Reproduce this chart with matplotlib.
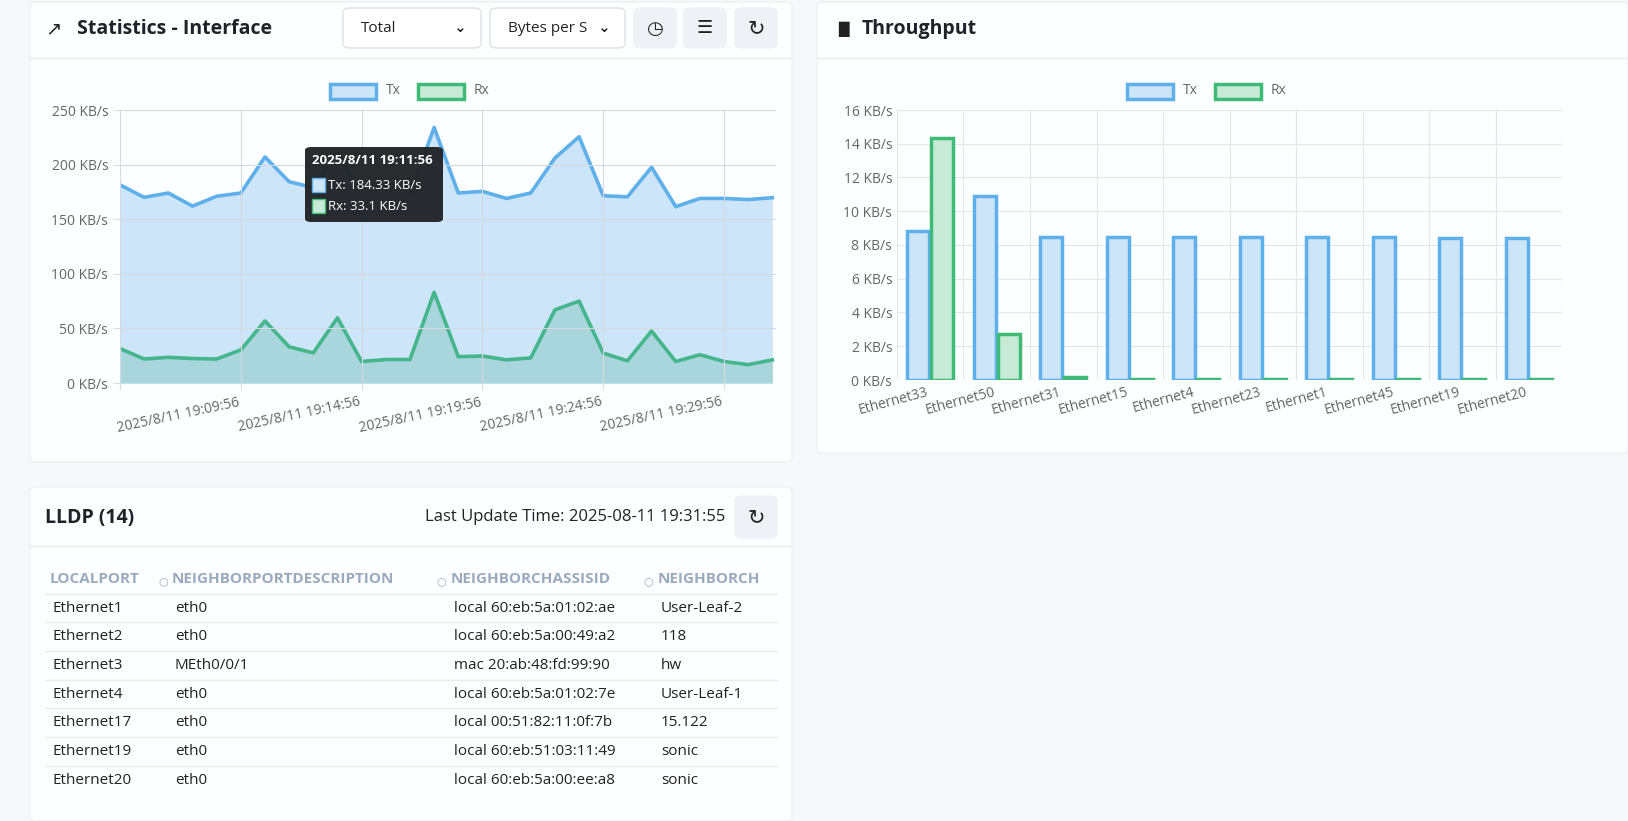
import numpy as np
import matplotlib.pyplot as plt
from matplotlib.patches import FancyBboxPatch, Rectangle

plt.rcParams['font.family'] = ['Open Sans', 'DejaVu Sans']

times = ['2025/8/11 19:%02d:56' % m for m in range(4, 32)]
tx_line = [181.5, 170, 174, 162, 171, 174, 207, 184.33, 179, 212, 171, 172, 172, 234,
           174, 175.5, 169, 174, 206, 225.5, 171.5, 170.5, 197.6, 161.5, 169, 169, 168, 169.7]
rx_line = [31.5, 22, 23.5, 22.4, 22, 30.3, 56.8, 33.1, 27.6, 59.7, 19.7, 21.5, 21.5, 83,
           24.1, 24.7, 21.2, 23, 67, 75, 27.4, 20.3, 47.6, 19.7, 25.9, 19.7, 16.8, 21.2]

ports = ['Ethernet33', 'Ethernet50', 'Ethernet31', 'Ethernet15', 'Ethernet4',
         'Ethernet23', 'Ethernet1', 'Ethernet45', 'Ethernet19', 'Ethernet20']
tx_bar = [8.8, 10.9, 8.5, 8.5, 8.45, 8.45, 8.45, 8.45, 8.4, 8.4]
rx_bar = [14.35, 2.75, 0.15, 0.05, 0.05, 0.08, 0.05, 0.05, 0.05, 0.05]

lldp_cols = ['LOCALPORT', 'NEIGHBORPORTDESCRIPTION', 'NEIGHBORCHASSISID', 'NEIGHBORCH']
lldp_rows = [
    ['Ethernet1', 'eth0', 'local 60:eb:5a:01:02:ae', 'User-Leaf-2'],
    ['Ethernet2', 'eth0', 'local 60:eb:5a:00:49:a2', '118'],
    ['Ethernet3', 'MEth0/0/1', 'mac 20:ab:48:fd:99:90', 'hw'],
    ['Ethernet4', 'eth0', 'local 60:eb:5a:01:02:7e', 'User-Leaf-1'],
    ['Ethernet17', 'eth0', 'local 00:51:82:11:0f:7b', '15.122'],
    ['Ethernet19', 'eth0', 'local 60:eb:51:03:11:49', 'sonic'],
    ['Ethernet20', 'eth0', 'local 60:eb:5a:00:ee:a8', 'sonic'],
]

W, H = 1628, 821
fig = plt.figure(figsize=(W / 100, H / 100), dpi=100, facecolor='#f6f9fc')

def fx(x): return x / W
def fy(y): return 1 - y / H

def card(x0, y0, x1, y1, header=None):
    fig.patches.append(FancyBboxPatch((fx(x0), fy(y1)), fx(x1 - x0), (y1 - y0) / H,
                                      boxstyle='round,pad=0,rounding_size=0.004',
                                      transform=fig.transFigure, fc='#fdfeff', ec='#eef1f4', lw=1,
                                      zorder=-5))
    if header:
        fig.add_artist(plt.Line2D([fx(x0), fx(x1)], [fy(header)] * 2, color='#e9edf1', lw=1, zorder=-4))

def button(x0, y0, x1, y1, text='', fc='#eef2f6', ec='#eef2f6', ha='center', fs=11):
    fig.patches.append(FancyBboxPatch((fx(x0), fy(y1)), fx(x1 - x0), (y1 - y0) / H,
                                      boxstyle='round,pad=0,rounding_size=0.005',
                                      transform=fig.transFigure, fc=fc, ec=ec, lw=1))
    if text:
        fig.text(fx(x0 + 18) if ha == 'left' else fx((x0 + x1) / 2), fy((y0 + y1) / 2), text,
                 ha=ha, va='center', fontsize=fs, color='#222', family=['DejaVu Sans'] if ha == 'center' else None)

card(30, 2, 792, 462, header=58)
card(817, 2, 1628, 453, header=58)
card(30, 487, 792, 821, header=546)

fig.text(fx(45), fy(29), '\u2197', fontsize=14, va='center', color='#222', family=['DejaVu Sans'])
fig.text(fx(77), fy(29), 'Statistics - Interface', fontsize=14, fontweight='bold', va='center', color='#1f2328')
button(343, 8, 481, 48, 'Total', fc='white', ec='#dde2e8', ha='left')
fig.text(fx(460), fy(28), '\u2304', fontsize=11, ha='center', va='center', family=['DejaVu Sans'])
button(490, 8, 625, 48, 'Bytes per S', fc='white', ec='#dde2e8', ha='left')
fig.text(fx(604), fy(28), '\u2304', fontsize=11, ha='center', va='center', family=['DejaVu Sans'])
button(634, 8, 676, 48, '\u25F7', fs=14)
button(684, 8, 726, 48, '\u2630', fs=13)
button(735, 8, 777, 48, '\u21BB', fs=15)

fig.text(fx(832), fy(29), '\u2590\u258c', fontsize=11, va='center', color='#222', family=['DejaVu Sans'])
fig.text(fx(862), fy(29), 'Throughput', fontsize=14, fontweight='bold', va='center', color='#1f2328')

blue, blue_f = '#5eb0ea', '#cde5f8'
green, green_f = '#3fbb77', '#c6ead6'

# line chart
ax = fig.add_axes([fx(120), fy(383), fx(656), 273 / H])
x = np.arange(len(times))
ax.fill_between(x, tx_line, color=blue_f, lw=0)
ax.fill_between(x, rx_line, color='#a8d6dc', lw=0)
ax.plot(x, tx_line, color=blue, lw=2.6)
ax.plot(x, rx_line, color='#45b58c', lw=2.6)
ax.set_xlim(0, len(times) - 0.85)
ax.set_ylim(0, 250)
ax.set_yticks(range(0, 251, 50))
ax.set_yticklabels(['%d KB/s' % v for v in range(0, 251, 50)])
ax.set_xticks(x[::5])
ax.set_xticklabels(['' if i == 0 else times[i] for i in x[::5]], rotation=12, ha='right')
ax.grid(color='#d5dae0', lw=0.8)
ax.set_axisbelow(False)
for s in ax.spines.values():
    s.set_visible(False)
ax.tick_params(colors='#666', labelsize=10, length=5, color='#ddd')
ax.set_facecolor('none')

# legends
def legend(cx):
    for dx, ec, fc, lab in [(-18 - 40, blue, blue_f, 'Tx'), (18 + 12, green, green_f, 'Rx')]:
        x0 = cx + dx
        fig.patches.append(Rectangle((fx(x0), fy(99)), fx(46), 15 / H, transform=fig.transFigure,
                                     fc=fc, ec=ec, lw=2.5))
        fig.text(fx(x0 + 56), fy(91), lab, fontsize=10, color='#666', va='center')
legend(388)
legend(1185)

# tooltip
fig.patches.append(FancyBboxPatch((fx(305), fy(222)), fx(138), 75 / H,
                                  boxstyle='round,pad=0,rounding_size=0.004',
                                  transform=fig.transFigure, fc='#222528', ec='none', alpha=0.97, zorder=5))
fig.text(fx(312), fy(160), '2025/8/11 19:11:56', fontsize=9.5, fontweight='bold', color='white', va='center', zorder=6)
fig.patches.append(Rectangle((fx(312), fy(192)), fx(13), 14 / H, transform=fig.transFigure, fc=blue_f, ec=blue, lw=1, zorder=6))
fig.patches.append(Rectangle((fx(312), fy(213)), fx(13), 14 / H, transform=fig.transFigure, fc=green_f, ec=green, lw=1, zorder=6))
fig.text(fx(328), fy(185), 'Tx: 184.33 KB/s', fontsize=9.5, color='white', va='center', zorder=6)
fig.text(fx(328), fy(206), 'Rx: 33.1 KB/s', fontsize=9.5, color='white', va='center', zorder=6)

# bar chart
bx = fig.add_axes([fx(897), fy(380), fx(665), 270 / H])
xb = np.arange(len(ports))
bx.bar(xb - 0.18, tx_bar, width=0.33, color=blue_f, edgecolor=blue, lw=2.5)
bx.bar(xb + 0.18, rx_bar, width=0.33, color=green_f, edgecolor=green, lw=2.5)
bx.set_xlim(-0.5, len(ports) - 0.5)
bx.set_ylim(0, 16)
bx.set_yticks(range(0, 17, 2))
bx.set_yticklabels(['%d KB/s' % v for v in range(0, 17, 2)])
bx.set_xticks(xb)
bx.set_xticklabels(ports, rotation=15, ha='right')
bx.set_xticks(np.arange(-0.5, len(ports)), minor=True)
bx.grid(False)
bx.grid(which='minor', axis='x', color='#e3e6ea', lw=0.8)
bx.grid(which='major', axis='y', color='#e3e6ea', lw=0.8)
bx.set_axisbelow(True)
for s in bx.spines.values():
    s.set_visible(False)
bx.tick_params(colors='#666', labelsize=10, length=0)
bx.tick_params(which='minor', length=0)
bx.set_facecolor('none')

# LLDP card
fig.text(fx(45), fy(518), 'LLDP (14)', fontsize=14, fontweight='bold', va='center', color='#1f2328')
fig.text(fx(725), fy(517), 'Last Update Time: 2025-08-11 19:31:55', fontsize=12, ha='right', va='center', color='#222')
button(735, 496, 777, 538, '\u21BB', fs=15)
col_x = [50, 172, 451, 658]
sort_x = [163, 441, 648]
for cx, c in zip(col_x, lldp_cols):
    fig.text(fx(cx), fy(579), c, fontsize=11, fontweight='bold', color='#9aabbe', va='center')
for sx in sort_x:
    fig.text(fx(sx), fy(581), '\u25cb', fontsize=8, color='#9aabbe', ha='center', va='center', family=['DejaVu Sans'])
for i, row in enumerate(lldp_rows):
    y = 608 + i * 28.7
    fig.add_artist(plt.Line2D([fx(45), fx(777)], [fy(y - 14.5)] * 2, color='#e9edf1', lw=1))
    for cx, v in zip(col_x, row):
        fig.text(fx(cx + 3), fy(y), v, fontsize=11, color='#222', va='center')

fig.savefig('out.png', dpi=100, facecolor=fig.get_facecolor())
